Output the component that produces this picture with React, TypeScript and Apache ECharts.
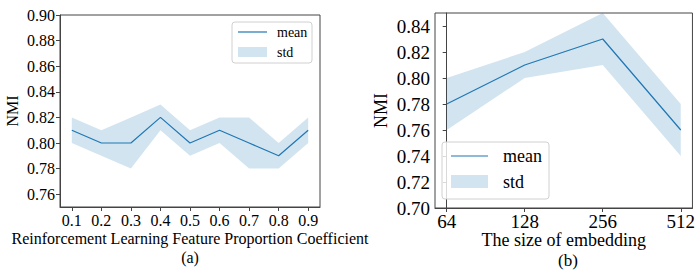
import React, { useEffect, useRef } from "react";
import * as echarts from "echarts";

// Chart (a)
const coefA = [0.1, 0.2, 0.3, 0.4, 0.5, 0.6, 0.7, 0.8, 0.9];
const meanA = [0.81, 0.8, 0.8, 0.82, 0.8, 0.81, 0.8, 0.79, 0.81];
const upperA = [0.82, 0.81, 0.82, 0.83, 0.81, 0.82, 0.82, 0.8, 0.82];
const lowerA = [0.8, 0.79, 0.78, 0.81, 0.79, 0.8, 0.78, 0.78, 0.8];
const yTicksA = [0.76, 0.78, 0.8, 0.82, 0.84, 0.86, 0.88, 0.9];

// Chart (b)
const sizeLabelsB = ["64", "128", "256", "512"];
const meanB = [0.78, 0.81, 0.83, 0.76];
const upperB = [0.8, 0.82, 0.85, 0.78];
const lowerB = [0.76, 0.8, 0.81, 0.74];
const yTicksB = [0.7, 0.72, 0.74, 0.76, 0.78, 0.8, 0.82, 0.84];

const FONT = "Liberation Serif, serif";
const BLUE = "#1f77b4";
const BAND = "rgba(31,119,180,0.2)";
const AXIS = "#444";

function bandSeries(xs: number[], up: number[], lo: number[], xi: number, yi: number) {
  return {
    type: "custom",
    name: "std",
    xAxisIndex: xi,
    yAxisIndex: yi,
    z: 1,
    silent: true,
    data: [[xs[0], up[0]]],
    renderItem: (_p: any, api: any) => {
      const pts: number[][] = [];
      for (let i = 0; i < xs.length; i++) pts.push(api.coord([xs[i], up[i]]));
      for (let i = xs.length - 1; i >= 0; i--) pts.push(api.coord([xs[i], lo[i]]));
      return { type: "polygon", shape: { points: pts }, style: { fill: BAND, stroke: "none" } };
    },
  };
}

export default function App() {
  const ref = useRef<HTMLDivElement>(null);
  useEffect(() => {
    document.body.style.margin = "0";
    const chart = echarts.init(ref.current!, null, { renderer: "svg" });
    const idxB = sizeLabelsB.map((_, i) => i);
    const axisCommon = (fs: number, lh: number) => ({
      axisLine: { show: true, lineStyle: { color: AXIS, width: 1 } },
      axisTick: { show: true, inside: false, length: 4, lineStyle: { color: AXIS } },
      splitLine: { show: false },
      axisLabel: { color: "#000", fontFamily: FONT, fontSize: fs, lineHeight: lh, margin: 5 },
      nameTextStyle: { color: "#000", fontFamily: FONT },
      nameMoveOverlap: false,
    });
    const c16 = axisCommon(16, 16);
    const c19 = axisCommon(19, 17);
    chart.setOption({
      animation: false,
      textStyle: { fontFamily: FONT },
      grid: [
        { left: 60, top: 15, width: 260, height: 192, show: true, borderColor: AXIS, borderWidth: 1 },
        { left: 435, top: 13, width: 260, height: 195, show: true, borderColor: AXIS, borderWidth: 1 },
      ],
      xAxis: [
        {
          type: "value",
          gridIndex: 0,
          min: 0.06,
          max: 0.94,
          ...c16,
          axisTick: { ...c16.axisTick, customValues: coefA },
          axisLabel: { ...c16.axisLabel, customValues: coefA, formatter: (v: number) => v.toFixed(1) },
          name: "Reinforcement Learning Feature Proportion Coefficient",
          nameLocation: "middle",
          nameGap: 23,
          nameTextStyle: { ...c16.nameTextStyle, fontSize: 16, lineHeight: 16 },
        },
        {
          type: "value",
          gridIndex: 1,
          min: -0.15,
          max: 3.15,
          ...c19,
          axisTick: { ...c19.axisTick, customValues: idxB },
          axisLabel: {
            ...c19.axisLabel,
            customValues: idxB,
            formatter: (v: number) => sizeLabelsB[Math.round(v)] ?? "",
          },
          name: "The size of embedding",
          nameLocation: "middle",
          nameGap: 23,
          nameTextStyle: { ...c19.nameTextStyle, fontSize: 18, lineHeight: 18 },
        },
      ],
      yAxis: [
        {
          type: "value",
          gridIndex: 0,
          min: 0.75,
          max: 0.9,
          ...c16,
          axisTick: { ...c16.axisTick, customValues: yTicksA },
          axisLabel: { ...c16.axisLabel, customValues: yTicksA, formatter: (v: number) => v.toFixed(2) },
          name: "NMI",
          nameLocation: "middle",
          nameGap: 40,
          nameTextStyle: { ...c16.nameTextStyle, fontSize: 16 },
        },
        {
          type: "value",
          gridIndex: 1,
          min: 0.7,
          max: 0.85,
          ...c19,
          axisTick: { ...c19.axisTick, customValues: yTicksB },
          axisLabel: { ...c19.axisLabel, customValues: yTicksB, formatter: (v: number) => v.toFixed(2) },
          name: "NMI",
          nameLocation: "middle",
          nameGap: 45,
          nameTextStyle: { ...c19.nameTextStyle, fontSize: 18 },
        },
      ],
      series: [
        bandSeries(coefA, upperA, lowerA, 0, 0),
        {
          type: "line",
          name: "mean",
          xAxisIndex: 0,
          yAxisIndex: 0,
          z: 3,
          showSymbol: false,
          lineStyle: { color: BLUE, width: 1.2 },
          data: coefA.map((x, i) => [x, meanA[i]]),
        },
        bandSeries(idxB, upperB, lowerB, 1, 1),
        {
          type: "line",
          name: "mean",
          xAxisIndex: 1,
          yAxisIndex: 1,
          z: 3,
          showSymbol: false,
          lineStyle: { color: BLUE, width: 1.2 },
          data: idxB.map((x, i) => [x, meanB[i]]),
        },
      ],
      graphic: [
        // legend (a)
        { type: "rect", z: 100, shape: { x: 232, y: 22, width: 80, height: 41, r: 3 }, style: { fill: "rgba(255,255,255,0.8)", stroke: "#d0d0d0", lineWidth: 1 } },
        { type: "line", z: 101, shape: { x1: 238, y1: 32, x2: 267, y2: 32 }, style: { stroke: BLUE, lineWidth: 1.2 } },
        { type: "text", z: 101, x: 277, y: 32, style: { text: "mean", fontFamily: FONT, fontSize: 14, fill: "#000", verticalAlign: "middle" } },
        { type: "rect", z: 101, shape: { x: 238, y: 47, width: 29, height: 10 }, style: { fill: BAND } },
        { type: "text", z: 101, x: 277, y: 52, style: { text: "std", fontFamily: FONT, fontSize: 14, fill: "#000", verticalAlign: "middle" } },
        // legend (b)
        { type: "rect", z: 100, shape: { x: 442, y: 142, width: 107, height: 57, r: 3 }, style: { fill: "rgba(255,255,255,0.8)", stroke: "#d0d0d0", lineWidth: 1 } },
        { type: "line", z: 101, shape: { x1: 451, y1: 156, x2: 488, y2: 156 }, style: { stroke: BLUE, lineWidth: 1.2 } },
        { type: "text", z: 101, x: 503, y: 156, style: { text: "mean", fontFamily: FONT, fontSize: 18, fill: "#000", verticalAlign: "middle" } },
        { type: "rect", z: 101, shape: { x: 451, y: 175, width: 37, height: 13 }, style: { fill: BAND } },
        { type: "text", z: 101, x: 503, y: 182, style: { text: "std", fontFamily: FONT, fontSize: 18, fill: "#000", verticalAlign: "middle" } },
        // captions
        { type: "text", x: 190, y: 257, style: { text: "(a)", fontFamily: FONT, fontSize: 16, lineHeight: 16, fill: "#000", align: "center", verticalAlign: "middle" } },
        { type: "text", x: 568, y: 260, style: { text: "(b)", fontFamily: FONT, fontSize: 17, lineHeight: 17, fill: "#000", align: "center", verticalAlign: "middle" } },
      ],
    });
    return () => chart.dispose();
  }, []);
  return <div ref={ref} style={{ width: 698, height: 273 }} />;
}
